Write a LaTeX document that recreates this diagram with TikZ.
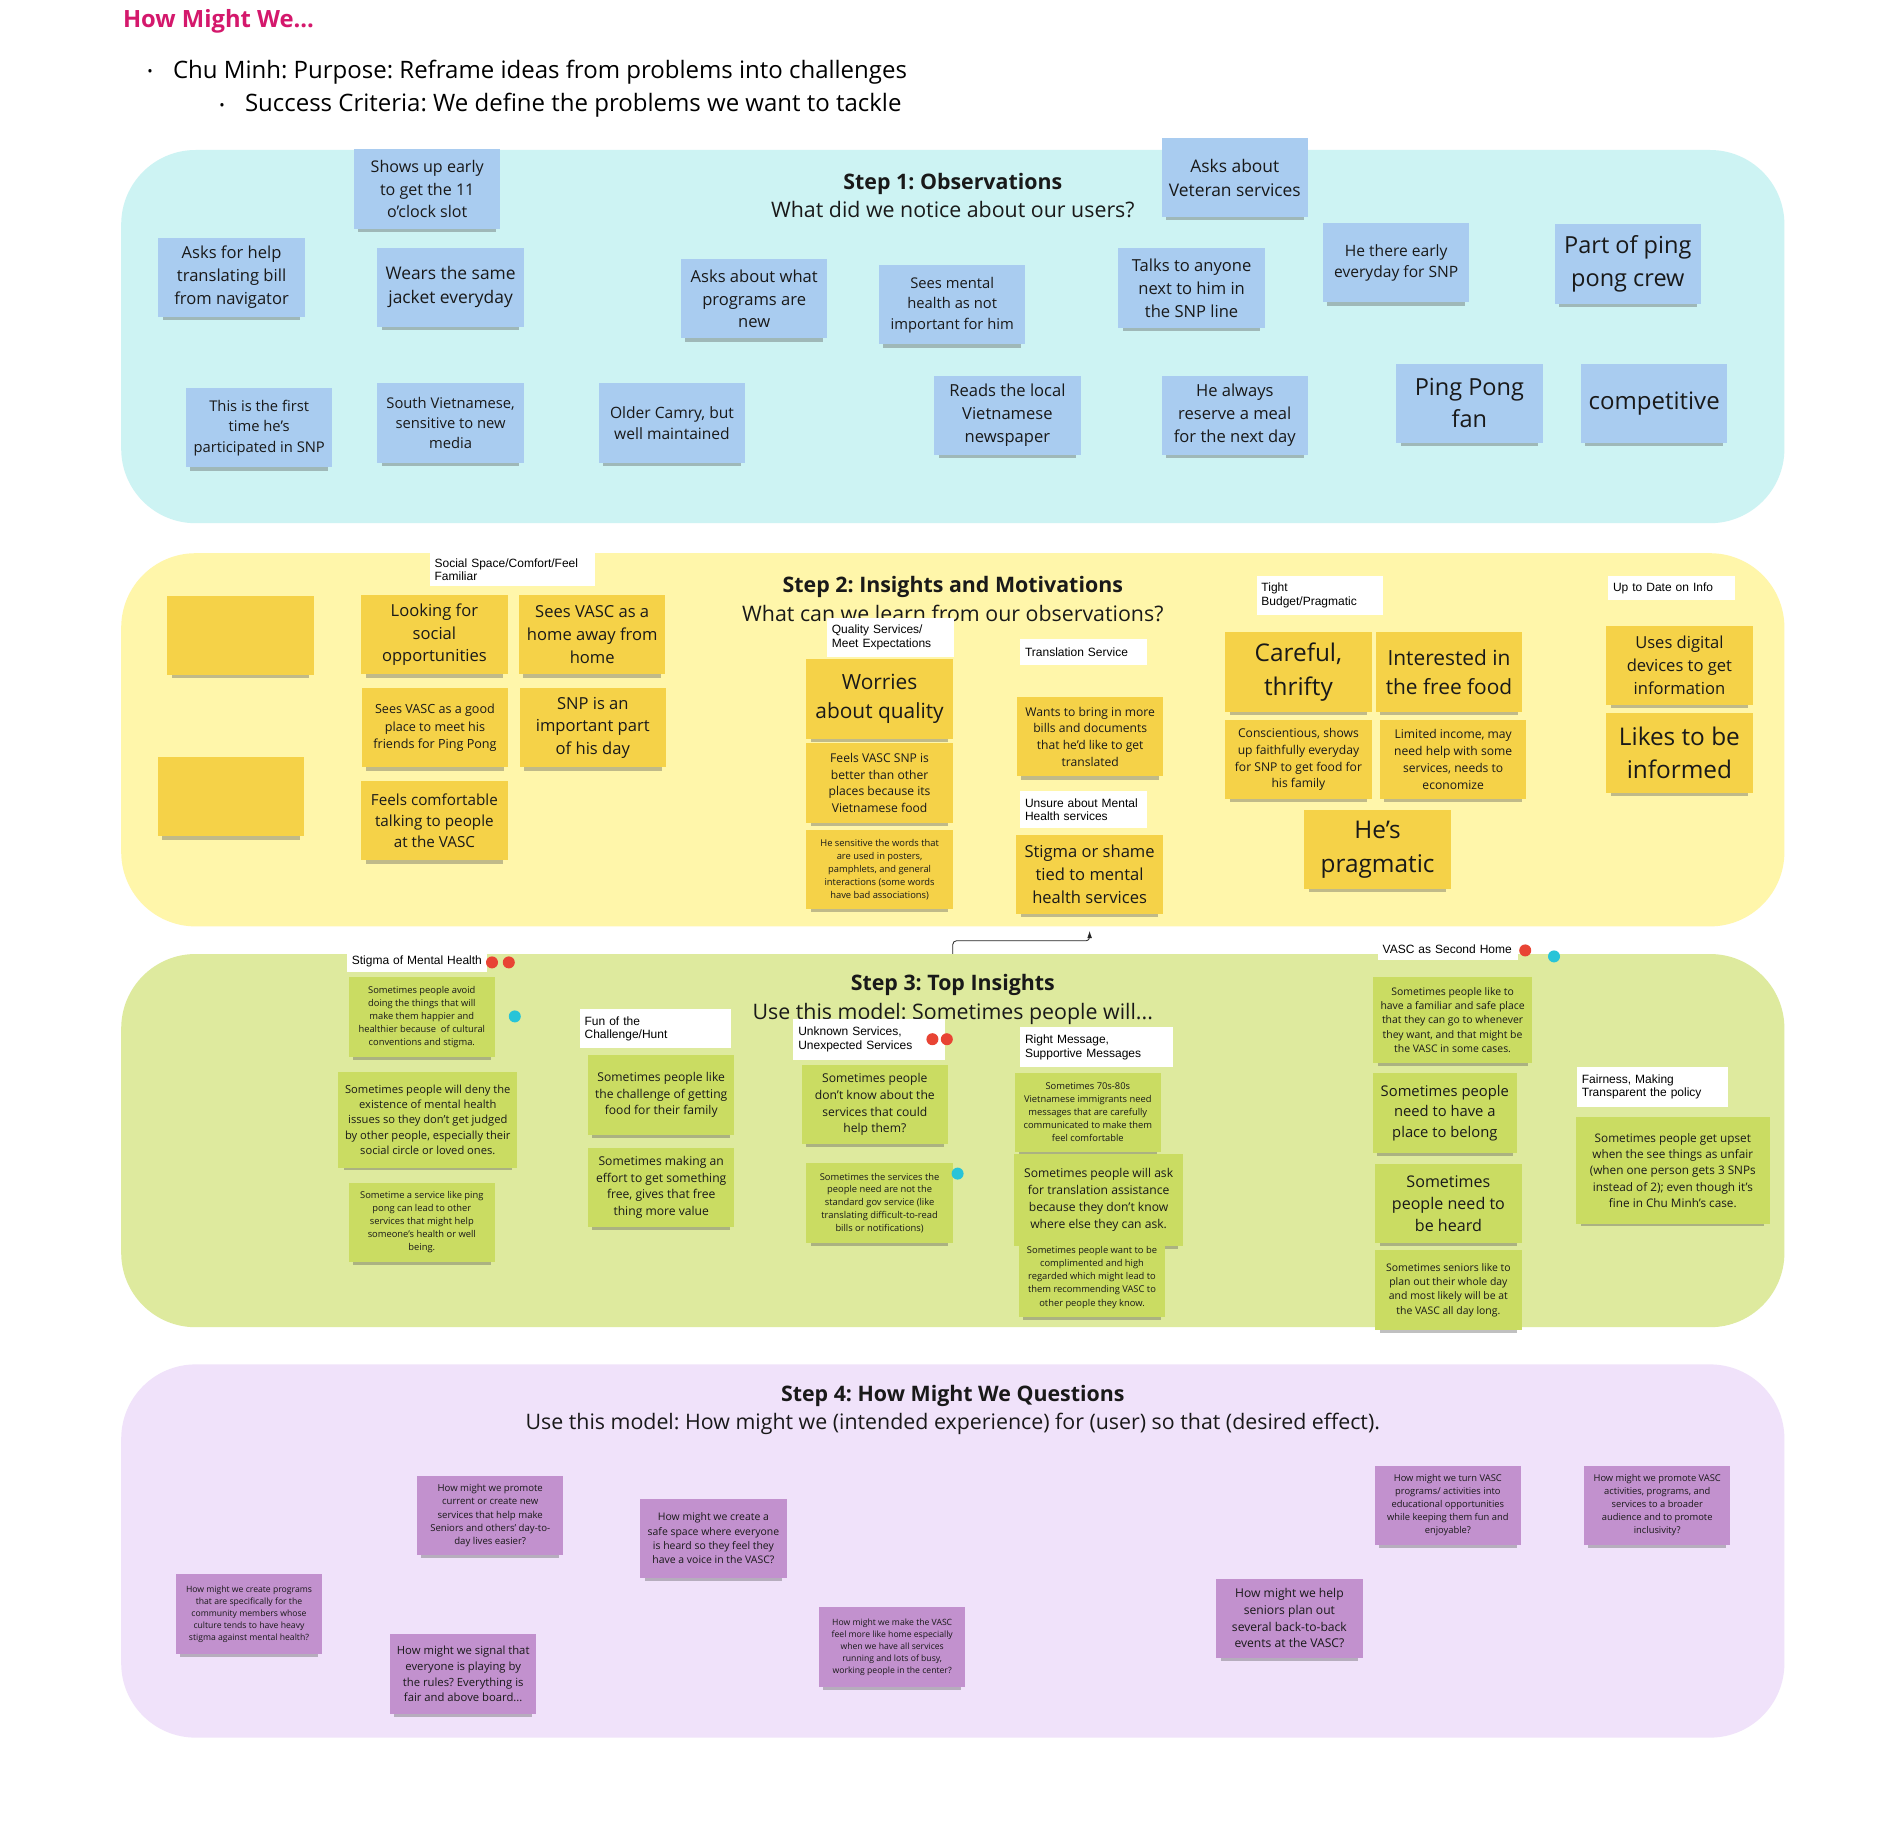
\documentclass[tikz,border=0pt]{standalone}
\usepackage{fontspec}
\setmainfont{Open Sans}
\newfontfamily\tagfont{Liberation Sans}
\usetikzlibrary{shadows,arrows.meta}
\frenchspacing

\definecolor{obsblue}{RGB}{169,204,240}
\definecolor{insyellow}{RGB}{245,210,72}
\definecolor{topgreen}{RGB}{202,220,98}
\definecolor{hmwpurple}{RGB}{194,145,206}
\definecolor{bandcyan}{RGB}{205,243,243}
\definecolor{bandyellow}{RGB}{255,246,170}
\definecolor{bandgreen}{RGB}{222,234,158}
\definecolor{bandlilac}{RGB}{240,226,250}
\definecolor{hmwpink}{RGB}{212,24,108}
\definecolor{votered}{RGB}{232,68,52}
\definecolor{votecyan}{RGB}{40,196,216}

\begin{document}
\begin{tikzpicture}[x=1pt, y=-1pt,
        band/.style={rounded corners=62pt, minimum width=1386pt, minimum height=311pt, inner sep=0pt},
        note/.style={minimum width=122pt, minimum height=66pt, inner sep=2pt, align=center, text=black!90,
            drop shadow={shadow xshift=0pt, shadow yshift=-5pt, shadow scale=0.94, opacity=0.35, fill=black!70}},
        obsnote/.style={note, fill=obsblue},
        insnote/.style={note, fill=insyellow},
        topnote/.style={note, fill=topgreen},
        hmwnote/.style={note, fill=hmwpurple},
        txt/.style 2 args={font=\fontsize{#1}{#2}\selectfont},
        tag/.style={fill=white, anchor=north west, align=left, inner xsep=4pt, inner ysep=3pt,
            font=\tagfont\fontsize{10}{11.2}\selectfont},
        steptitle/.style={align=center, text=black!90, font=\fontsize{17.8}{24}\selectfont},
        vote/.style={circle, inner sep=0pt, minimum size=10pt},
        conn/.style={draw=black!85, line width=0.7pt, rounded corners=3pt, -{Latex[length=6pt, width=4pt]}}]

        \fill[white] (0, 0) rectangle (1570, 1516.7);
        \useasboundingbox (0, 0) rectangle (1570, 1516.7);

        \node[anchor=west, text=hmwpink, font=\bfseries\fontsize{19.8}{24}\selectfont] (heading) at (99, 18) {How Might We...};
        \node[font=\fontsize{12}{14}\selectfont] (dotone) at (125, 61) {•};
        \node[anchor=west, inner xsep=0pt, font=\fontsize{20}{24}\selectfont] (purpose) at (144, 60) {Chu Minh: Purpose: Reframe ideas from problems into challenges};
        \node[font=\fontsize{12}{14}\selectfont] (dottwo) at (185, 89) {•};
        \node[anchor=west, inner xsep=0pt, font=\fontsize{20}{24}\selectfont] (criteria) at (204, 88) {Success Criteria: We define the problems we want to tackle};

        \node[band, fill=bandcyan] (obsband) at (794, 280.5) {};
        \node[band, fill=bandyellow] (insband) at (794, 616.5) {};
        \node[band, fill=bandgreen] (topband) at (794, 950.5) {};
        \node[band, fill=bandlilac] (hmwband) at (794, 1292.5) {};

        \node[steptitle] (obstitle) at (794, 163) {\textbf{Step 1: Observations}\\What did we notice about our users?};
        \node[steptitle] (institle) at (794, 499.5) {\textbf{Step 2: Insights and Motivations}\\What can we learn from our observations?};
        \node[steptitle] (toptitle) at (794, 833) {\textbf{Step 3: Top Insights}\\Use this model: Sometimes people will...};
        \node[steptitle] (hmwtitle) at (794, 1175) {\textbf{Step 4: How Might We Questions}\\Use this model: How might we (intended experience) for (user) so that (desired effect).};

        \node[obsnote, txt={13.4}{18.5}] (earlyslot) at (356, 157.5) {Shows up early\\to get the 11\\o'clock slot};
        \node[obsnote, txt={13.8}{19}] (translatebill) at (193, 231) {Asks for help\\translating bill\\from navigator};
        \node[obsnote, txt={14.5}{20}] (jacket) at (375.5, 239.5) {Wears the same\\jacket everyday};
        \node[obsnote, txt={13.8}{19}] (newprograms) at (628.5, 249) {Asks about what\\programs are\\new};
        \node[obsnote, txt={12.3}{17}] (mentalhealth) at (793.5, 254) {Sees mental\\health as not\\important for him};
        \node[obsnote, txt={14.5}{20}] (veteran) at (1029, 148) {Asks about\\Veteran services};
        \node[obsnote, txt={13.8}{19}] (talks) at (993, 240) {Talks to anyone\\next to him in\\the SNP line};
        \node[obsnote, txt={13}{18}] (thereearly) at (1163.5, 219) {He there early\\everyday for SNP};
        \node[obsnote, txt={19.6}{27}] (pingcrew) at (1356.5, 220) {Part of ping\\pong crew};
        \node[obsnote, txt={12.3}{17}] (firsttime) at (216, 356.5) {This is the first\\time he's\\participated in SNP};
        \node[obsnote, txt={12.3}{17}] (southvn) at (375.5, 352.5) {South Vietnamese,\\sensitive to new\\media};
        \node[obsnote, txt={13}{18}] (camry) at (560, 352.5) {Older Camry, but\\well maintained};
        \node[obsnote, txt={13.8}{19}] (newspaper) at (839.5, 346) {Reads the local\\Vietnamese\\newspaper};
        \node[obsnote, txt={13.8}{19}] (reservemeal) at (1029, 346) {He always\\reserve a meal\\for the next day};
        \node[obsnote, txt={19.6}{27}] (pingfan) at (1224.5, 336) {Ping Pong\\fan};
        \node[obsnote, txt={20}{27}] (competitive) at (1378.5, 336) {competitive};

        \node[insnote] (blankone) at (200.5, 529.5) {};
        \node[insnote] (blanktwo) at (192.5, 664) {};
        \node[insnote, txt={13.8}{19}] (socialopp) at (362, 529) {Looking for\\social\\opportunities};
        \node[insnote, txt={13.8}{19}] (homeaway) at (493.5, 529) {Sees VASC as a\\home away from\\home};
        \node[insnote, txt={10.5}{14.5}] (goodplace) at (362.5, 606.5) {Sees VASC as a good\\place to meet his\\friends for Ping Pong};
        \node[insnote, txt={13.8}{19}] (snppart) at (494, 606.5) {SNP is an\\important part\\of his day};
        \node[insnote, txt={12.7}{17.5}] (comfortable) at (362, 684) {Feels comfortable\\talking to people\\at the VASC};
        \node[insnote, txt={17.4}{24}] (worries) at (733, 582.5) {Worries\\about quality};
        \node[insnote, txt={10.1}{14}] (betterfood) at (733, 652.5) {Feels VASC SNP is\\better than other\\places because its\\Vietnamese food};
        \node[insnote, txt={7.8}{10.8}] (sensitive) at (733, 724.5) {He sensitive the words that\\are used in posters,\\pamphlets, and general\\interactions (some words\\have bad associations)};
        \node[insnote, txt={10.1}{14}] (bringbills) at (908.5, 614) {Wants to bring in more\\bills and documents\\that he'd like to get\\translated};
        \node[insnote, txt={13.8}{19}] (stigmashame) at (908, 728.5) {Stigma or shame\\tied to mental\\health services};
        \node[insnote, txt={20.3}{28}] (careful) at (1082, 560) {Careful,\\thrifty};
        \node[insnote, txt={17.4}{24}] (freefood) at (1207.5, 560) {Interested in\\the free food};
        \node[insnote, txt={10.1}{14}] (conscientious) at (1082, 633) {Conscientious, shows\\up faithfully everyday\\for SNP to get food for\\his family};
        \node[insnote, txt={10.1}{14}] (limitedincome) at (1211, 633) {Limited income, may\\need help with some\\services, needs to\\economize};
        \node[insnote, txt={20.3}{28}] (pragmatic) at (1148, 708) {He's\\pragmatic};
        \node[insnote, txt={13.8}{19}] (digital) at (1399.5, 554.5) {Uses digital\\devices to get\\information};
        \node[insnote, txt={20.3}{28}] (informed) at (1399.5, 627.5) {Likes to be\\informed};

        \node[topnote, txt={7.8}{10.8}] (avoid) at (351.5, 847.5) {Sometimes people avoid\\doing the things that will\\make them happier and\\healthier because\ \ of cultural\\conventions and stigma.};
        \node[topnote, minimum width=149pt, minimum height=80pt, txt={9.3}{12.8}] (deny) at (356.5, 933) {Sometimes people will deny the\\existence of mental health\\issues so they don't get judged\\by other people, especially their\\social circle or loved ones.};
        \node[topnote, txt={7.8}{10.8}] (pingservice) at (351.5, 1018.5) {Sometime a service like ping\\pong can lead to other\\services that might help\\someone's health or well\\being.};
        \node[topnote, txt={10.1}{14}] (challenge) at (551, 912.5) {Sometimes people like\\the challenge of getting\\food for their family};
        \node[topnote, txt={10.1}{14}] (effort) at (551, 989.5) {Sometimes making an\\effort to get something\\free, gives that free\\thing more value};
        \node[topnote, txt={10.1}{13.8}] (dontknow) at (729, 920.5) {Sometimes people\\don't know about the\\services that could\\help them?};
        \node[topnote, minimum height=67pt, txt={7.8}{10.7}] (govservice) at (733, 1002.5) {Sometimes the services the\\people need are not the\\standard gov service (like\\translating difficult-to-read\\bills or notifications)};
        \node[topnote, txt={7.8}{10.9}] (seventies) at (906.5, 927) {Sometimes 70s-80s\\Vietnamese immigrants need\\messages that are carefully\\communicated to make them\\feel comfortable};
        \node[topnote, minimum width=141pt, minimum height=76pt, txt={10.1}{14}] (askhelp) at (915.5, 1000) {Sometimes people will ask\\for translation assistance\\because they don't know\\where else they can ask.};
        \node[topnote, txt={7.8}{10.9}] (compliment) at (910, 1064.5) {Sometimes people want to be\\complimented and high\\regarded which might lead to\\them recommending VASC to\\other people they know.};
        \node[topnote, minimum width=133pt, minimum height=72pt, txt={8.7}{12}] (familiar) at (1210.5, 850) {Sometimes people like to\\have a familiar and safe place\\that they can go to whenever\\they want, and that might be\\the VASC in some cases.};
        \node[topnote, minimum width=120pt, txt={12.3}{17}] (belong) at (1204, 927.5) {Sometimes people\\need to have a\\place to belong};
        \node[topnote, txt={13.4}{18.5}] (heard) at (1207, 1003) {Sometimes\\people need to\\be heard};
        \node[topnote, txt={8.7}{12}] (wholeday) at (1207, 1075) {Sometimes seniors like to\\plan out their whole day\\and most likely will be at\\the VASC all day long.};
        \node[topnote, minimum width=162pt, minimum height=89pt, txt={9.8}{13.5}] (upset) at (1394, 975.5) {Sometimes people get upset\\when the see things as unfair\\(when one person gets 3 SNPs\\instead of 2); even though it's\\fine in Chu Minh's case.};

        \node[hmwnote, txt={7.2}{10}] (stigmaprog) at (207.5, 1345) {How might we create programs\\that are specifically for the\\community members whose\\culture tends to have heavy\\stigma against mental health?};
        \node[hmwnote, txt={8}{11}] (daytoday) at (408.5, 1263) {How might we promote\\current or create new\\services that help make\\Seniors and others' day-to-\\day lives easier?};
        \node[hmwnote, txt={9.4}{13}] (signal) at (386, 1395) {How might we signal that\\everyone is playing by\\the rules? Everything is\\fair and above board...};
        \node[hmwnote, txt={8.7}{12}] (safespace) at (594.5, 1282) {How might we create a\\safe space where everyone\\is heard so they feel they\\have a voice in the VASC?};
        \node[hmwnote, txt={7.2}{10}] (homelike) at (743.5, 1372.5) {How might we make the VASC\\feel more like home especially\\when we have all services\\running and lots of busy,\\working people in the center?};
        \node[hmwnote, txt={10.1}{14}] (backtoback) at (1074.5, 1348.5) {How might we help\\seniors plan out\\several back-to-back\\events at the VASC?};
        \node[hmwnote, txt={7.8}{10.8}] (educational) at (1206.5, 1254.5) {How might we turn VASC\\programs/ activities into\\educational opportunities\\while keeping them fun and\\enjoyable?};
        \node[hmwnote, txt={7.8}{10.8}] (inclusivity) at (1381, 1254.5) {How might we promote VASC\\activities, programs, and\\services to a broader\\audience and to promote\\inclusivity?};

        \node[tag, text width=130pt, minimum height=27pt] (tagsocial) at (358, 461) {Social Space/Comfort/Feel\\Familiar};
        \node[tag, text width=98pt, minimum height=32pt] (tagquality) at (689, 515) {Quality Services/\\Meet Expectations};
        \node[tag, text width=98pt, minimum height=22pt] (tagtranslate) at (850, 532) {Translation Service};
        \node[tag, text width=98pt, minimum height=31pt] (tagunsure) at (850, 659) {Unsure about Mental\\Health services};
        \node[tag, text width=97pt, minimum height=32pt] (tagbudget) at (1047, 480) {Tight\\Budget/Pragmatic};
        \node[tag, text width=98pt, minimum height=20pt] (taginfo) at (1340, 480) {Up to Date on Info};
        \node[tag, text width=109pt, minimum height=18pt] (tagstigma) at (289, 792) {Stigma of Mental Health};
        \node[tag, text width=118pt, minimum height=32pt] (tagfun) at (483, 841) {Fun of the\\Challenge/Hunt};
        \node[tag, text width=118pt, minimum height=34pt] (tagunknown) at (661, 849) {Unknown Services,\\Unexpected Services};
        \node[tag, text width=119pt, minimum height=33pt] (tagmessage) at (850, 856) {Right Message,\\Supportive Messages};
        \node[tag, text width=109pt, minimum height=18pt] (taghome) at (1148, 782) {VASC as Second Home};
        \node[tag, text width=118pt, minimum height=33pt] (tagfair) at (1314, 889) {Fairness, Making\\Transparent the policy};

        \node[vote, fill=votered] (redone) at (410, 802) {};
        \node[vote, fill=votered] (redtwo) at (424, 802) {};
        \node[vote, fill=votecyan] (cyanone) at (429, 847) {};
        \node[vote, fill=votered] (redthree) at (777, 866) {};
        \node[vote, fill=votered] (redfour) at (789, 866) {};
        \node[vote, fill=votecyan] (cyantwo) at (798, 978) {};
        \node[vote, fill=votered] (redfive) at (1271, 792) {};
        \node[vote, fill=votecyan] (cyanthree) at (1295, 797) {};

        \coordinate (elbow) at (908, 784);
        \draw[conn] (topband.north) |- (elbow) -- ([yshift=-14pt]stigmashame.south);

    \end{tikzpicture}
\end{document}
